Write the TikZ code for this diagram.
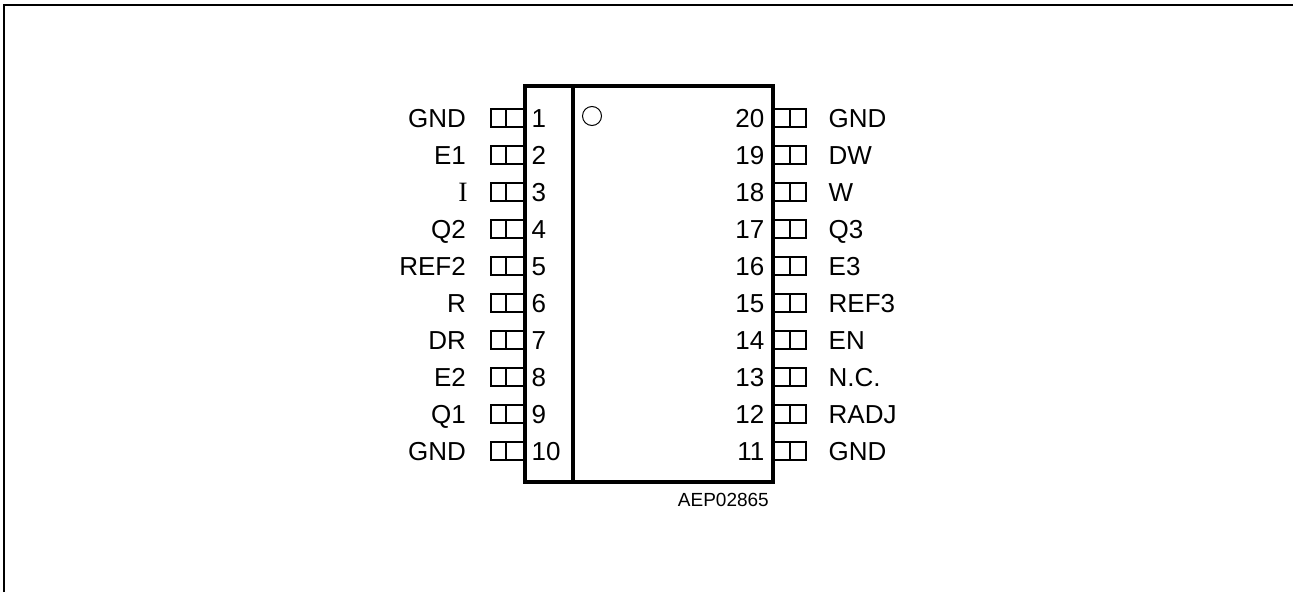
\documentclass[tikz,border=0pt]{standalone}
\usepackage{fontspec}
\setmainfont{Liberation Sans}
\newfontfamily\serifpin{Liberation Serif}
\tikzset{
	pinbox/.style={draw, line width=2pt, minimum width=32pt, minimum height=18pt, inner sep=0pt, outer sep=0pt, path picture={\draw[line width=2pt] ([xshift=#1]path picture bounding box.north) -- ([xshift=#1]path picture bounding box.south);}},
	pinbox/.default=0pt,
	pintext/.style={inner sep=0pt, font=\fontsize{26}{30}\selectfont, text height=19pt, text depth=0pt},
	leftname/.style={pintext, anchor=east},
	rightname/.style={pintext, anchor=west},
	leftnum/.style={pintext, anchor=west},
	rightnum/.style={pintext, anchor=east}
}
\begin{document}
\begin{tikzpicture}[x=1pt,y=-1pt]
	\useasboundingbox (0,0) rectangle (1293,592);
	\draw[line width=2pt] (4.3,592) -- (4.3,5) -- (1293,5);
	% pins first, the package outline goes over them
	\node[pinbox=-2pt, minimum width=34pt] (p1) at (507.5,117.5) {};
	\node[pinbox=-2pt, minimum width=34pt] (p2) at (507.5,154.5) {};
	\node[pinbox=-2pt, minimum width=34pt] (p3) at (507.5,191.5) {};
	\node[pinbox=-2pt, minimum width=34pt] (p4) at (507.5,228.5) {};
	\node[pinbox=-2pt, minimum width=34pt] (p5) at (507.5,265.5) {};
	\node[pinbox=-2pt, minimum width=34pt] (p6) at (507.5,302.5) {};
	\node[pinbox=-2pt, minimum width=34pt] (p7) at (507.5,339.5) {};
	\node[pinbox=-2pt, minimum width=34pt] (p8) at (507.5,376.5) {};
	\node[pinbox=-2pt, minimum width=34pt] (p9) at (507.5,413.5) {};
	\node[pinbox=-2pt, minimum width=34pt] (p10) at (507.5,450.5) {};
	\node[pinbox] (p20) at (790,117.5) {};
	\node[pinbox] (p19) at (790,154.5) {};
	\node[pinbox] (p18) at (790,191.5) {};
	\node[pinbox] (p17) at (790,228.5) {};
	\node[pinbox] (p16) at (790,265.5) {};
	\node[pinbox] (p15) at (790,302.5) {};
	\node[pinbox] (p14) at (790,339.5) {};
	\node[pinbox] (p13) at (790,376.5) {};
	\node[pinbox] (p12) at (790,413.5) {};
	\node[pinbox] (p11) at (790,450.5) {};
	\draw[line width=4pt] (524.7,86) rectangle (772.5,481.5);
	\draw[line width=4pt] (572.7,86) -- (572.7,481.5);
	\node[draw, circle, line width=1pt, minimum size=19pt, inner sep=0pt] (mark) at (592,116) {};
	% left side
	\node[leftname] (gnda) at (466,118) {GND};
	\node[leftname] (ea) at (466,155) {E1};
	\node[leftname, font=\fontsize{28}{30}\selectfont] (in) at (468,192) {\serifpin I};
	\node[leftname] (qb) at (466,229) {Q2};
	\node[leftname] (refb) at (466,266) {REF2};
	\node[leftname] (r) at (466,303) {R};
	\node[leftname] (dr) at (466,340) {DR};
	\node[leftname] (eb) at (466,377) {E2};
	\node[leftname] (qa) at (466,414) {Q1};
	\node[leftname] (gndb) at (466,451) {GND};
	\node[leftnum] (n1) at (531.5,118) {1};
	\node[leftnum] (n2) at (531.5,155) {2};
	\node[leftnum] (n3) at (531.5,192) {3};
	\node[leftnum] (n4) at (531.5,229) {4};
	\node[leftnum] (n5) at (531.5,266) {5};
	\node[leftnum] (n6) at (531.5,303) {6};
	\node[leftnum] (n7) at (531.5,340) {7};
	\node[leftnum] (n8) at (531.5,377) {8};
	\node[leftnum] (n9) at (531.5,414) {9};
	\node[leftnum] (n10) at (531.5,451) {10};
	% right side
	\node[rightnum] (n20) at (764.5,118) {20};
	\node[rightnum] (n19) at (764.5,155) {19};
	\node[rightnum] (n18) at (764.5,192) {18};
	\node[rightnum] (n17) at (764.5,229) {17};
	\node[rightnum] (n16) at (764.5,266) {16};
	\node[rightnum] (n15) at (764.5,303) {15};
	\node[rightnum] (n14) at (764.5,340) {14};
	\node[rightnum] (n13) at (764.5,377) {13};
	\node[rightnum] (n12) at (764.5,414) {12};
	\node[rightnum] (n11) at (764.5,451) {11};
	\node[rightname] (gndc) at (828.5,118) {GND};
	\node[rightname] (dw) at (828.5,155) {DW};
	\node[rightname] (w) at (828.5,192) {W};
	\node[rightname] (qc) at (828.5,229) {Q3};
	\node[rightname] (ec) at (828.5,266) {E3};
	\node[rightname] (refc) at (828.5,303) {REF3};
	\node[rightname] (en) at (828.5,340) {EN};
	\node[rightname] (nc) at (828.5,377) {N.C.};
	\node[rightname] (radj) at (828.5,414) {RADJ};
	\node[rightname] (gndd) at (828.5,451) {GND};
	\node[inner sep=0pt, anchor=east, font=\fontsize{19}{22}\selectfont] (code) at (769,500) {AEP02865};
\end{tikzpicture}
\end{document}
